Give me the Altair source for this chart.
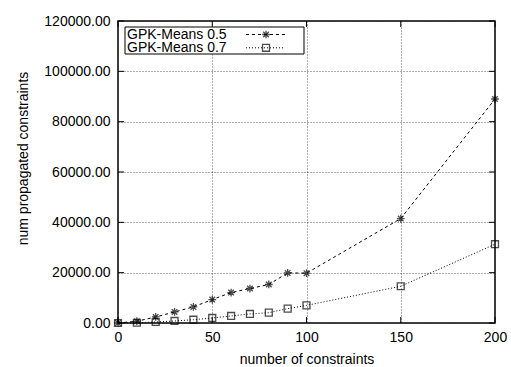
import altair as alt
import pandas as pd

# ---- data ----
x_vals = [0, 10, 20, 30, 40, 50, 60, 70, 80, 90, 100, 150, 200]
s05 = [0, 700, 2400, 4400, 6400, 9300, 12100, 13700, 15300, 19900, 19800, 41500, 89000]
s07 = [0, 100, 400, 800, 1300, 2000, 2800, 3600, 4100, 5700, 7000, 14600, 31300]
series_names = ["GPK-Means 0.5", "GPK-Means 0.7"]
x_ticks = [0, 50, 100, 150, 200]
y_ticks = [0, 20000, 40000, 60000, 80000, 100000, 120000]

W, H = 377, 302
FONT = "Liberation Sans"
AST = "M-1,0L1,0M0,-1L0,1M-0.72,-0.72L0.72,0.72M-0.72,0.72L0.72,-0.72"
shapes = [AST, "square"]
sizes = [60, 48]
dashes = [[3, 3], [1, 2]]

df = pd.DataFrame(
    {"x": x_vals * 2,
     "y": s05 + s07,
     "series": [series_names[0]] * len(x_vals) + [series_names[1]] * len(x_vals)}
)

xs = alt.Scale(domain=[0, 200], nice=False, zero=False)
ys = alt.Scale(domain=[0, 120000], nice=False)

xax = alt.Axis(values=x_ticks, format="d", grid=True, gridDash=[1, 2], gridColor="#333",
               gridOpacity=0.8, ticks=False, domain=False, labelFontSize=14, labelFont=FONT,
               labelColor="black", labelPadding=7, labelFlush=False,
               title="number of constraints", titleFont=FONT, titleFontSize=14,
               titleFontWeight="normal", titleColor="black", titleX=W / 2, titleY=36,
               titleBaseline="middle", titleAlign="center")
yax = alt.Axis(values=y_ticks, format=".2f", grid=True, gridDash=[1, 2], gridColor="#333",
               gridOpacity=0.8, ticks=False, domain=False, labelFontSize=14, labelFont=FONT,
               labelColor="black", labelPadding=8, labelFlush=False,
               title="num propagated constraints", titleFont=FONT, titleFontSize=14,
               titleFontWeight="normal", titleColor="black", titleX=-95, titleY=137,
               titleAngle=270, titleBaseline="middle", titleAlign="center")

lines = alt.Chart(df).mark_line(color="black", strokeWidth=1).encode(
    x=alt.X("x:Q", scale=xs, axis=xax),
    y=alt.Y("y:Q", scale=ys, axis=yax),
    strokeDash=alt.StrokeDash("series:N", scale=alt.Scale(domain=series_names, range=dashes), legend=None),
    detail="series:N",
)
points = alt.Chart(df).mark_point(color="black", filled=False, strokeWidth=1.3).encode(
    x=alt.X("x:Q", scale=xs, axis=xax),
    y=alt.Y("y:Q", scale=ys, axis=yax),
    shape=alt.Shape("series:N", scale=alt.Scale(domain=series_names, range=shapes), legend=None),
    size=alt.Size("series:N", scale=alt.Scale(domain=series_names, range=sizes), legend=None),
)

ydf = pd.DataFrame({"y": y_ticks})
xdf = pd.DataFrame({"x": x_ticks})
tick_layers = [
    alt.Chart(ydf).mark_rule(color="black", strokeWidth=1).encode(
        y=alt.Y("y:Q", scale=ys, axis=yax), x=alt.value(0), x2=alt.value(6)),
    alt.Chart(ydf).mark_rule(color="black", strokeWidth=1).encode(
        y=alt.Y("y:Q", scale=ys, axis=yax), x=alt.value(W - 6), x2=alt.value(W)),
    alt.Chart(xdf).mark_rule(color="black", strokeWidth=1).encode(
        x=alt.X("x:Q", scale=xs, axis=xax), y=alt.value(H - 6), y2=alt.value(H)),
    alt.Chart(xdf).mark_rule(color="black", strokeWidth=1).encode(
        x=alt.X("x:Q", scale=xs, axis=xax), y=alt.value(0), y2=alt.value(6)),
]

# ---- legend box (drawn manually, gnuplot style) ----
one = pd.DataFrame({"a": [0]})
legend_layers = [
    alt.Chart(one).mark_rect(fill="white", stroke="black", strokeWidth=1).encode(
        x=alt.value(7), x2=alt.value(186), y=alt.value(6), y2=alt.value(33)),
]
row_y = [13.5, 26.8]
for i, name in enumerate(series_names):
    ldf = pd.DataFrame({"name": [name]})
    legend_layers.append(
        alt.Chart(ldf).mark_text(align="left", baseline="middle", font=FONT, fontSize=14,
                                 color="black").encode(
            text="name:N", x=alt.value(9), y=alt.value(row_y[i])))
    legend_layers.append(
        alt.Chart(ldf).mark_rule(color="black", strokeWidth=1, strokeDash=dashes[i]).encode(
            x=alt.value(128), x2=alt.value(167), y=alt.value(row_y[i])))
    legend_layers.append(
        alt.Chart(ldf).mark_point(color="black", filled=False, strokeWidth=1.3, size=sizes[i],
                                  shape=shapes[i]).encode(
            x=alt.value(148), y=alt.value(row_y[i])))

chart = alt.layer(lines, points, *tick_layers, *legend_layers).properties(
    width=W, height=H,
    autosize=alt.AutoSizeParams(type="none"),
    padding={"left": 118, "top": 21, "right": 16, "bottom": 44},
    background="white",
).configure_view(stroke="black", strokeWidth=1.5)

chart.save("out.html", embed_options={"renderer": "svg", "actions": False})
